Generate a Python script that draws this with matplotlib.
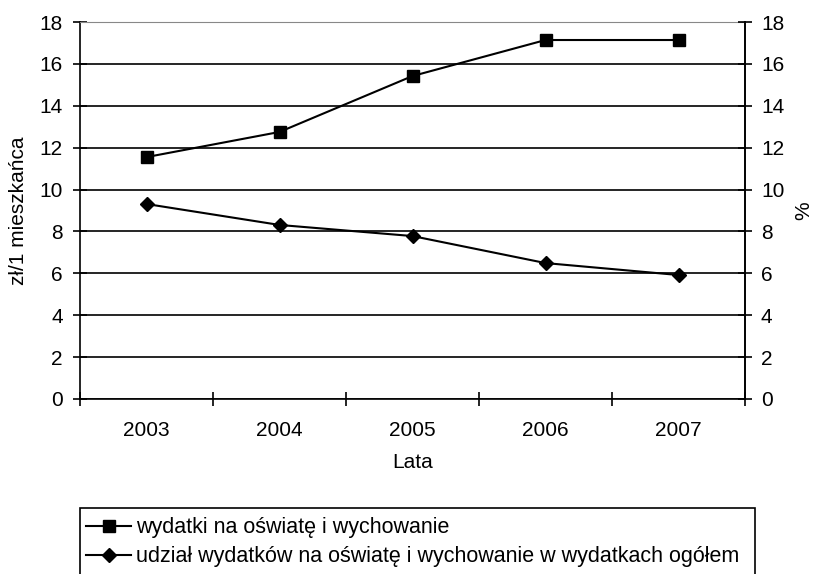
import matplotlib.pyplot as plt
import matplotlib.patches as mpatches
import numpy as np

plt.rcParams['font.family'] = ['Liberation Sans', 'DejaVu Sans']

years = ['2003', '2004', '2005', '2006', '2007']
wydatki = [11.55, 12.75, 15.42, 17.14, 17.14]
udzial = [9.31, 8.31, 7.78, 6.49, 5.92]

label_wydatki = 'wydatki na oświatę i wychowanie'
label_udzial = 'udział wydatków na oświatę i wychowanie w wydatkach ogółem'

fs = 15

fig = plt.figure(figsize=(8.14, 5.74), dpi=100)
ax = fig.add_axes([80 / 814, 1 - 399 / 574, 665 / 814, 377 / 574])

x = np.arange(len(years))
ax.plot(x, wydatki, color='black', lw=1.5, marker='s', markersize=8, label=label_wydatki)
ax.plot(x, udzial, color='black', lw=1.5, marker='D', markersize=7.5, label=label_udzial)

ax.set_xlim(-0.5, len(years) - 0.5)
ax.set_ylim(0, 18)
ax.set_yticks(range(0, 19, 2))
ax.yaxis.grid(True, color='black', lw=1.2)
ax.set_axisbelow(True)

ax.set_xticks(x)
ax.set_xticklabels(years)
ax.set_xticks(np.arange(-0.5, len(years), 1), minor=True)
ax.tick_params(axis='x', which='major', length=0, pad=16, labelsize=fs)
ax.tick_params(axis='x', which='minor', direction='inout', length=10, width=1.2)
ax.tick_params(axis='y', direction='inout', length=10, width=1.2, labelsize=fs, pad=7.5)

for s in ['left', 'right', 'bottom']:
    ax.spines[s].set_linewidth(1.2)
ax.spines['top'].set_color('#888888')

ax.set_xlabel('Lata', fontsize=fs, labelpad=9)
ax.set_ylabel('zł/1 mieszkańca', fontsize=fs, labelpad=8)

ax2 = ax.twinx()
ax2.set_ylim(0, 18)
ax2.set_yticks(range(0, 19, 2))
ax2.tick_params(axis='y', direction='inout', length=10, width=1.2, labelsize=fs, pad=6.5)
ax2.set_ylabel('%', fontsize=fs, labelpad=7)
for s in ['top', 'left', 'bottom']:
    ax2.spines[s].set_visible(False)
ax2.spines['right'].set_linewidth(1.2)

# legend box is cut by the bottom edge of the picture
handles, labels = ax.get_legend_handles_labels()
leg = fig.legend(handles, labels, loc='upper left',
                 bbox_to_anchor=(84 / 814, 1 - 515 / 574),
                 fontsize=15.5, frameon=False, handlelength=2.1, handletextpad=0.2,
                 labelspacing=0.38, borderpad=0.1, borderaxespad=0)
fig.patches.append(mpatches.Rectangle((80 / 814, -0.05), 675 / 814, 0.05 + 1 - 508 / 574,
                                      transform=fig.transFigure, fill=False,
                                      edgecolor='black', lw=1.2))

fig.savefig('out.png', dpi=100)
